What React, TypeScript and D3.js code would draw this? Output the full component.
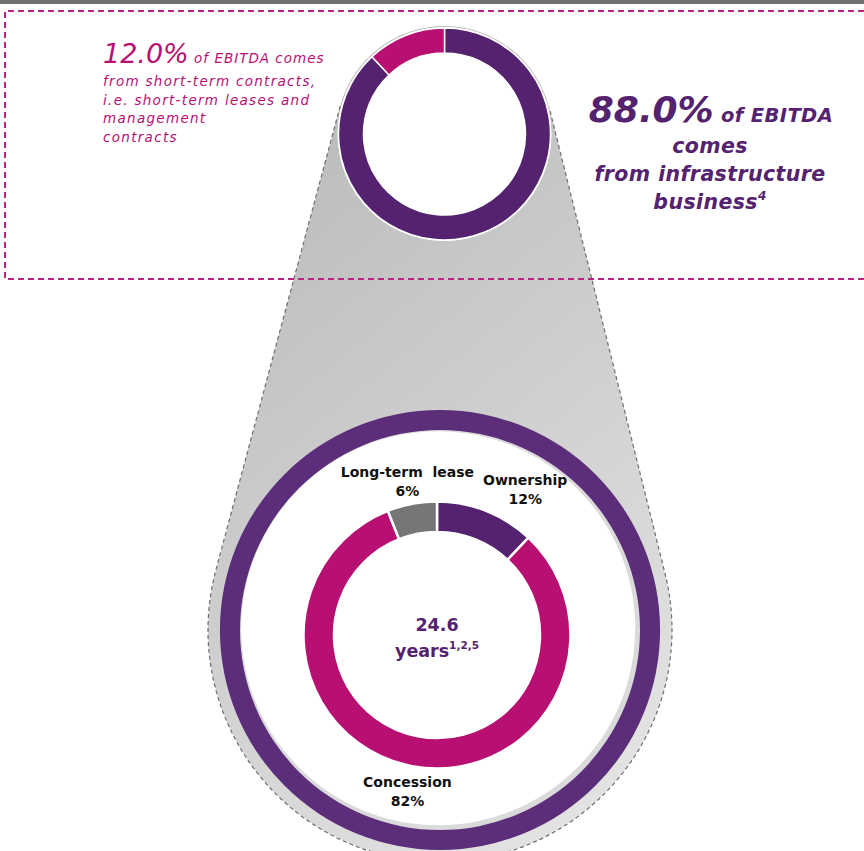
import React from 'react';
import * as d3 from 'd3';

const W = 864;
const H = 851;

// ---- data ----
const topCategories = ['Infrastructure business', 'Short-term contracts'];
const topValues = [88.0, 12.0];

const innerCategories = ['Ownership', 'Concession', 'Long-term  lease'];
const innerValues = [12, 82, 6];

const centerValue = '24.6';
const centerUnit = 'years';
const centerNote = '1,2,5';

const leftHeadline = '12.0%';
const leftLead = ' of EBITDA comes';
const leftLines = ['from short-term contracts,', 'i.e. short-term leases and', 'management', 'contracts'];

const rightHeadline = '88.0%';
const rightLead = ' of EBITDA';
const rightLines = ['comes', 'from infrastructure', 'business'];
const rightNote = '4';

// ---- styles ----
const PURPLE = '#54226f';
const RING_PURPLE = '#5c2e7a';
const PINK = '#b80f72';
const GRAY_SEG = '#767676';
const DASH_PINK = '#bb2281';
const topColors = [PURPLE, PINK];
const innerColors = [PURPLE, PINK, GRAY_SEG];
const FONT = '"DejaVu Sans", Verdana, sans-serif';

// geometry
const small = { cx: 444.5, cy: 134, r0: 81, r1: 106, hull: 108 };
const big = { cx: 440, cy: 630, hull: 232, ringOuter: 220, ringInner: 200 };
const inner = { cx: 437, cy: 635, r0: 103, r1: 133.5, labelR: 158 };
const labelNudge = [
  { dx: 30, dy: 0 },
  { dx: 0, dy: 0 },
  { dx: 0, dy: 0 },
];

function tangents() {
  const Dx = big.cx - small.cx;
  const Dy = big.cy - small.cy;
  const d = Math.hypot(Dx, Dy);
  const ux = Dx / d, uy = Dy / d;
  const wx = uy, wy = -ux;
  const k = (small.hull - big.hull) / d;
  const s = Math.sqrt(1 - k * k);
  const nR = [k * ux + s * wx, k * uy + s * wy];
  const nL = [k * ux - s * wx, k * uy - s * wy];
  const p = (c: { cx: number; cy: number }, r: number, n: number[]) => [c.cx + r * n[0], c.cy + r * n[1]];
  return {
    t1L: p(small, small.hull, nL),
    t2L: p(big, big.hull, nL),
    t1R: p(small, small.hull, nR),
    t2R: p(big, big.hull, nR),
  };
}

export default function App() {
  const pie = d3.pie<number>().sort(null).value((d) => d);
  const topArcs = pie(topValues);
  const innerArcs = pie(innerValues);
  const topArc = d3.arc<d3.PieArcDatum<number>>().innerRadius(small.r0).outerRadius(small.r1);
  const innerArc = d3.arc<d3.PieArcDatum<number>>().innerRadius(inner.r0).outerRadius(inner.r1);

  const { t1L, t2L, t1R, t2R } = tangents();
  const hullFill = `M${t1L[0]},${t1L[1]} L${t2L[0]},${t2L[1]} A${big.hull},${big.hull} 0 1 0 ${t2R[0]},${t2R[1]} L${t1R[0]},${t1R[1]} A${small.hull},${small.hull} 0 0 0 ${t1L[0]},${t1L[1]} Z`;
  const hullStroke = `M${t1L[0]},${t1L[1]} L${t2L[0]},${t2L[1]} A${big.hull},${big.hull} 0 1 0 ${t2R[0]},${t2R[1]} L${t1R[0]},${t1R[1]}`;

  const ringPath = d3.arc()({ innerRadius: big.ringInner, outerRadius: big.ringOuter, startAngle: 0, endAngle: Math.PI * 2 }) as string;

  return (
    <svg width={W} height={H} style={{ position: 'absolute', left: 0, top: 0, background: '#fff' }} fontFamily={FONT}>
      <defs>
        <linearGradient id="cone" gradientUnits="userSpaceOnUse" x1={220} y1={150} x2={680} y2={720}>
          <stop offset="0" stopColor="#bababa" />
          <stop offset="1" stopColor="#e2e2e2" />
        </linearGradient>
      </defs>

      {/* top bar */}
      <rect x={0} y={0} width={W} height={4} fill="#707070" />

      {/* cone */}
      <path d={hullFill} fill="url(#cone)" />
      <path d={hullStroke} fill="none" stroke="#6e6e6e" strokeWidth={1.2} strokeDasharray="4 3" />

      {/* dashed box */}
      <path d={`M${W + 10},11 L5,11 L5,279 L${W + 10},279`} fill="none" stroke={DASH_PINK} strokeWidth={2} strokeDasharray="6 4" />

      {/* top donut */}
      <circle cx={small.cx} cy={small.cy} r={small.r1 + 1} fill="#fff" />
      <g transform={`translate(${small.cx},${small.cy})`}>
        {topArcs.map((a, i) => (
          <path key={topCategories[i]} d={topArc(a) as string} fill={topColors[i]} stroke="#fff" strokeWidth={1.5} />
        ))}
      </g>

      {/* big circle */}
      <circle cx={big.cx} cy={big.cy} r={big.ringInner} fill="#dadada" />
      <circle cx={big.cx - 1.8} cy={big.cy - 1.8} r={big.ringInner - 3} fill="#fff" />
      <path d={ringPath} transform={`translate(${big.cx},${big.cy})`} fill={RING_PURPLE} />

      {/* inner donut */}
      <g transform={`translate(${inner.cx},${inner.cy})`}>
        {innerArcs.map((a, i) => (
          <path key={innerCategories[i]} d={innerArc(a) as string} fill={innerColors[i]} stroke="#fff" strokeWidth={2.5} />
        ))}
        {innerArcs.map((a, i) => {
          const mid = (a.startAngle + a.endAngle) / 2;
          const x = Math.sin(mid) * inner.labelR + labelNudge[i].dx;
          const y = -Math.cos(mid) * inner.labelR + labelNudge[i].dy;
          return (
            <text key={'l' + i} x={x} y={y} textAnchor="middle" fontSize={14} fontWeight={700} fill="#111">
              <tspan x={x} dy={-3} style={{ whiteSpace: 'pre' }}>{innerCategories[i]}</tspan>
              <tspan x={x} dy={19}>{innerValues[i]}%</tspan>
            </text>
          );
        })}
        <text x={0} y={-4} textAnchor="middle" fontSize={17.5} fontWeight={700} fill={PURPLE}>{centerValue}</text>
        <text x={0} y={22} textAnchor="middle" fontSize={17.5} fontWeight={700} fill={PURPLE}>
          {centerUnit}
          <tspan fontSize={10.5} dy={-8}>{centerNote}</tspan>
        </text>
      </g>

      {/* left text */}
      <g fill={PINK} fontStyle="italic">
        <text x={103} y={63}>
          <tspan fontSize={27}>{leftHeadline}</tspan>
          <tspan fontSize={13.5} letterSpacing={1} style={{ whiteSpace: 'pre' }}>{leftLead}</tspan>
        </text>
        {leftLines.map((t, i) => (
          <text key={t} x={103} y={86 + i * 18.7} fontSize={13.5} letterSpacing={1.3}>{t}</text>
        ))}
      </g>

      {/* right text */}
      <g fill={PURPLE} fontStyle="italic" fontWeight={700} textAnchor="middle">
        <text x={711} y={122}>
          <tspan fontSize={36}>{rightHeadline}</tspan>
          <tspan fontSize={19.5} letterSpacing={0.4} style={{ whiteSpace: 'pre' }}>{rightLead}</tspan>
        </text>
        {rightLines.map((t, i) => (
          <text key={t} x={710} y={153 + i * 28} fontSize={20.5} letterSpacing={0.4}>
            {t}
            {i === rightLines.length - 1 ? <tspan fontSize={12} dy={-9}>{rightNote}</tspan> : null}
          </text>
        ))}
      </g>
    </svg>
  );
}
